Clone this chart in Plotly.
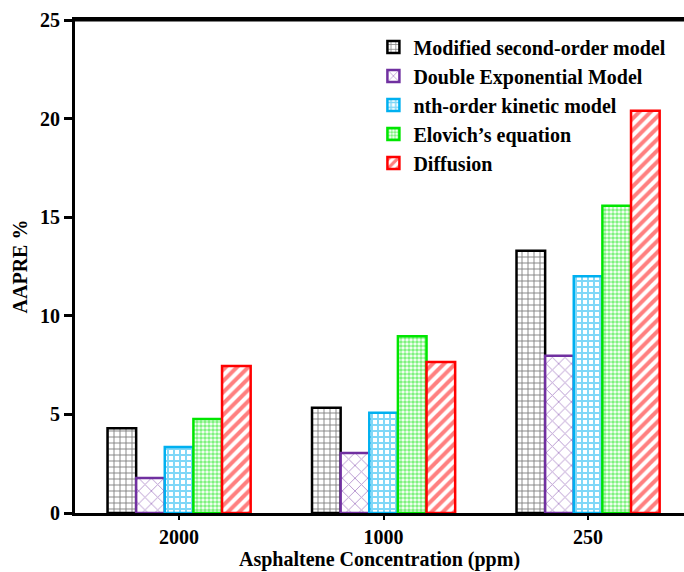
import plotly.graph_objects as go

# Asphaltene concentrations (ppm) on the x axis
concentrations = ["2000", "1000", "250"]

# AAPRE % of each kinetic model at each concentration
modified_second_order = [4.3, 5.34, 13.3]
double_exponential = [1.78, 3.04, 7.98]
nth_order = [3.35, 5.09, 12.0]
elovich = [4.77, 8.96, 15.58]
diffusion = [7.45, 7.66, 20.4]

series_names = [
    "Modified second-order model",
    "Double Exponential Model",
    "nth-order kinetic model",
    "Elovich\u2019s equation",
    "Diffusion",
]
series_values = [modified_second_order, double_exponential, nth_order, elovich, diffusion]

# Outline colour, hatch shape, hatch size and hatch solidity for each series
styles = [
    ("#000000", "+", 6, 0.28),
    ("#7030A0", "x", 9, 0.2),
    ("#00B0F0", "+", 6, 0.55),
    ("#00E600", ".", 4, 0.65),
    ("#FF0000", "/", 8, 0.5),
]

SERIF = "Times New Roman, Liberation Serif, serif"

fig = go.Figure()
for name, vals, (col, shape, size, sol) in zip(series_names, series_values, styles):
    fig.add_trace(
        go.Bar(
            name="<b>" + name + "</b>",
            x=concentrations,
            y=vals,
            marker=dict(
                color="white",
                line=dict(color=col, width=2.5),
                pattern=dict(shape=shape, fgcolor=col, bgcolor="white",
                             size=size, solidity=sol, fillmode="overlay"),
            ),
        )
    )

fig.update_layout(
    width=684,
    height=572,
    margin=dict(l=75, r=0, t=20, b=59, autoexpand=False),
    paper_bgcolor="white",
    plot_bgcolor="white",
    font=dict(family=SERIF, size=20, color="black"),
    barmode="group",
    bargap=0.3,
    bargroupgap=0,
    showlegend=True,
    legend=dict(
        x=0.49, y=0.985, xanchor="left", yanchor="top",
        bgcolor="rgba(0,0,0,0)",
        font=dict(family=SERIF, size=20, color="black"),
    ),
    # frame line along the top of the plotting area
    shapes=[dict(type="line", xref="paper", yref="paper", x0=0, x1=1, y0=1, y1=1,
                 layer="above", line=dict(color="black", width=3))],
)

fig.update_xaxes(
    range=[-0.509, 2.469],
    tickvals=concentrations,
    ticktext=["<b>" + c + "</b>" for c in concentrations],
    showline=True, linecolor="black", linewidth=3, mirror=True,
    ticks="outside", ticklen=4, tickwidth=2, tickcolor="black",
    showgrid=False,
    title=dict(text="<b>Asphaltene Concentration (ppm)</b>", standoff=4,
               font=dict(size=20)),
)
fig.update_yaxes(
    range=[0, 25],
    tickvals=[0, 5, 10, 15, 20, 25],
    ticktext=["<b>%d</b>" % v for v in [0, 5, 10, 15, 20, 25]],
    showline=True, linecolor="black", linewidth=3, mirror=False,
    ticks="outside", ticklen=8, tickwidth=3, tickcolor="black",
    showgrid=False, zeroline=False,
    title=dict(text="<b>AAPRE %</b>", standoff=8, font=dict(size=20)),
)

fig.write_html("out.html")
